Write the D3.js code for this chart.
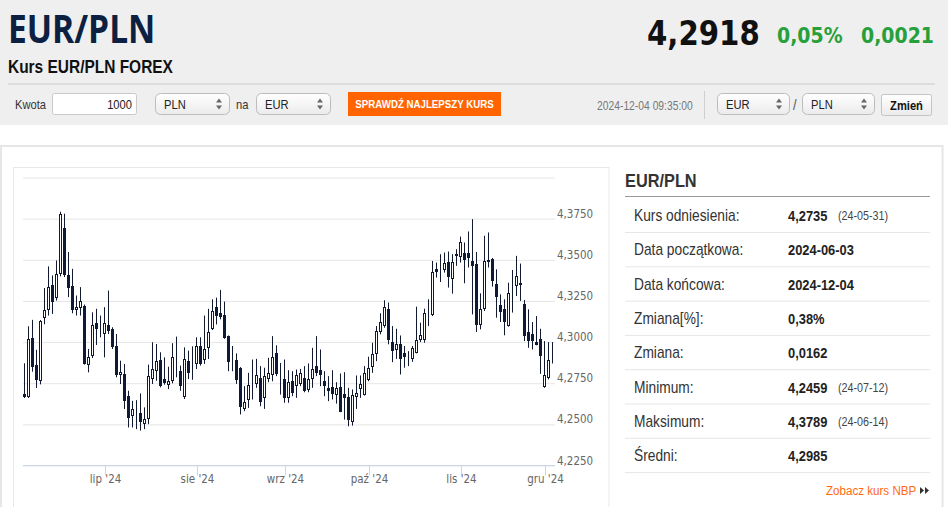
<!DOCTYPE html>
<html>
<head>
<meta charset="utf-8">
<script src="https://cdn.jsdelivr.net/npm/d3@7"></script>
<style>
  html, body { margin: 0; padding: 0; background: #fff; }
  svg { display: block; font-family: "Liberation Sans", Arial, sans-serif; }
</style>
</head>
<body>
<svg width="948" height="507"></svg>
<script>
// EUR/PLN daily candles, 2024-06-03 .. 2024-12-04 (weekdays only)
const firstDay = new Date(2024, 5, 3)
const lastDay = new Date(2024, 11, 4)

const open = [
  // cze
  4.2681, 4.2665, 4.3022, 4.2860, 4.2758, 4.3138, 4.3193, 4.3341, 4.3264, 4.3412,
  4.3690, 4.3406, 4.3337, 4.3193, 4.3209, 4.3219, 4.2860, 4.2914, 4.3111, 4.3085,
  // lip
  4.3046, 4.3101, 4.3077, 4.2971, 4.2795, 4.2803, 4.2671, 4.2549, 4.2580, 4.2565,
  4.2499, 4.2529, 4.2772, 4.2823, 4.2890, 4.2772, 4.2732, 4.2758, 4.2815, 4.2819,
  4.2661, 4.2884, 4.2849,
  // sie
  4.2864, 4.2975, 4.2888, 4.2961, 4.3074, 4.3212, 4.3176, 4.3161, 4.3033, 4.2869,
  4.2891, 4.2841, 4.2587, 4.2648, 4.2757, 4.2739, 4.2776, 4.2658, 4.2770, 4.2800,
  4.2932, 4.2818,
  // wrz
  4.2770, 4.2658, 4.2759, 4.2729, 4.2739, 4.2776, 4.2702, 4.2776, 4.2851, 4.2826,
  4.2759, 4.2719, 4.2723, 4.2678, 4.2723, 4.2682, 4.2664, 4.2516, 4.2662, 4.2715,
  4.2678,
  // paz
  4.2770, 4.2841, 4.2922, 4.3058, 4.3094, 4.3200, 4.2997, 4.2946, 4.2983, 4.2928,
  4.2903, 4.2897, 4.2932, 4.3007, 4.3013, 4.3190, 4.3165, 4.3439, 4.3421, 4.3439,
  4.3484, 4.3383, 4.3521,
  // lis
  4.3511, 4.3541, 4.3541, 4.3490, 4.3470, 4.3104, 4.3196, 4.3484, 4.3504, 4.3348,
  4.3220, 4.3196, 4.3094, 4.3308, 4.3338, 4.3358, 4.3230, 4.3058, 4.3048, 4.2997,
  4.3013,
  // gru
  4.2723, 4.2780, 4.2914
]
const high = [
  4.2868, 4.3093, 4.3132, 4.2950, 4.3131, 4.3325, 4.3457, 4.3402, 4.3493, 4.3789,
  4.3777, 4.3544, 4.3442, 4.3280, 4.3331, 4.3225, 4.2955, 4.3178, 4.3199, 4.3158,
  4.3209, 4.3310, 4.3087, 4.3046, 4.2884, 4.2864, 4.2701, 4.2640, 4.2644, 4.2685,
  4.2600, 4.2860, 4.2996, 4.2985, 4.2935, 4.2904, 4.2847, 4.2990, 4.3030, 4.2854,
  4.2965, 4.2945, 4.2971,
  4.3026, 4.3026, 4.3158, 4.3199, 4.3257, 4.3267, 4.3314, 4.3243, 4.3037, 4.2973,
  4.2928, 4.2845, 4.2729, 4.2810, 4.2891, 4.2895, 4.2851, 4.2841, 4.2901, 4.3033,
  4.2977, 4.2870,
  4.2891, 4.2826, 4.2820, 4.2830, 4.2834, 4.2851, 4.2867, 4.2962, 4.3033, 4.2952,
  4.2820, 4.2790, 4.2826, 4.2753, 4.2806, 4.2814, 4.2719, 4.2709, 4.2794, 4.2794,
  4.2851,
  4.2908, 4.2993, 4.3094, 4.3172, 4.3251, 4.3237, 4.3094, 4.3078, 4.3037, 4.2973,
  4.2942, 4.2973, 4.3212, 4.3115, 4.3200, 4.3257, 4.3490, 4.3480, 4.3531, 4.3541,
  4.3547, 4.3531, 4.3561,
  4.3638, 4.3602, 4.3669, 4.3744, 4.3545, 4.3293, 4.3643, 4.3663, 4.3508, 4.3439,
  4.3287, 4.3257, 4.3358, 4.3435, 4.3521, 4.3474, 4.3253, 4.3196, 4.3119, 4.3155,
  4.3078,
  4.3003, 4.2997, 4.2997
]
const low = [
  4.2657, 4.2657, 4.2817, 4.2718, 4.2740, 4.3105, 4.3158, 4.3168, 4.3249, 4.3396,
  4.3392, 4.3270, 4.3172, 4.3158, 4.3158, 4.2860, 4.2813, 4.2900, 4.2979, 4.3026,
  4.2904, 4.3046, 4.2955, 4.2783, 4.2742, 4.2590, 4.2478, 4.2478, 4.2468, 4.2459,
  4.2468, 4.2498, 4.2742, 4.2762, 4.2722, 4.2738, 4.2711, 4.2746, 4.2783, 4.2701,
  4.2651, 4.2772, 4.2768,
  4.2833, 4.2854, 4.2864, 4.2894, 4.3070, 4.3104, 4.3135, 4.3017, 4.2820, 4.2820,
  4.2743, 4.2557, 4.2577, 4.2597, 4.2648, 4.2719, 4.2607, 4.2591, 4.2753, 4.2759,
  4.2790, 4.2678,
  4.2628, 4.2628, 4.2668, 4.2658, 4.2729, 4.2692, 4.2692, 4.2719, 4.2790, 4.2729,
  4.2668, 4.2638, 4.2648, 4.2623, 4.2571, 4.2526, 4.2485, 4.2489, 4.2591, 4.2658,
  4.2672,
  4.2759, 4.2810, 4.2881, 4.3044, 4.3084, 4.2983, 4.2875, 4.2895, 4.2800, 4.2841,
  4.2851, 4.2877, 4.2928, 4.2997, 4.2993, 4.3094, 4.3155, 4.3389, 4.3362, 4.3419,
  4.3328, 4.3291, 4.3460,
  4.3480, 4.3354, 4.3450, 4.3165, 4.3058, 4.3074, 4.3186, 4.3450, 4.3334, 4.3145,
  4.3119, 4.3038, 4.3090, 4.3176, 4.3277, 4.3247, 4.3003, 4.2962, 4.2952, 4.2977,
  4.2804,
  4.2719, 4.2770, 4.2867
]
const close = [
  4.2665, 4.3016, 4.2843, 4.2766, 4.3124, 4.3189, 4.3331, 4.3239, 4.3412, 4.3777,
  4.3406, 4.3325, 4.3189, 4.3209, 4.3249, 4.2864, 4.2908, 4.3103, 4.3077, 4.3093,
  4.3111, 4.3067, 4.2965, 4.2793, 4.2813, 4.2640, 4.2539, 4.2590, 4.2576, 4.2508,
  4.2529, 4.2793, 4.2833, 4.2884, 4.2732, 4.2746, 4.2758, 4.2904, 4.2821, 4.2726,
  4.2894, 4.2813, 4.2851,
  4.2971, 4.2868, 4.2955, 4.3057, 4.3186, 4.3159, 4.3151, 4.3023, 4.2875, 4.2865,
  4.2770, 4.2607, 4.2632, 4.2739, 4.2761, 4.2794, 4.2628, 4.2790, 4.2806, 4.2908,
  4.2806, 4.2820,
  4.2652, 4.2755, 4.2688, 4.2796, 4.2806, 4.2698, 4.2770, 4.2834, 4.2806, 4.2796,
  4.2729, 4.2698, 4.2678, 4.2719, 4.2573, 4.2658, 4.2522, 4.2678, 4.2688, 4.2743,
  4.2810,
  4.2841, 4.2922, 4.3064, 4.3119, 4.3212, 4.3013, 4.2942, 4.2983, 4.2891, 4.2901,
  4.2907, 4.2962, 4.3009, 4.3037, 4.3176, 4.3192, 4.3425, 4.3419, 4.3423, 4.3480,
  4.3395, 4.3484, 4.3531,
  4.3602, 4.3500, 4.3511, 4.3460, 4.3098, 4.3200, 4.3490, 4.3494, 4.3373, 4.3267,
  4.3176, 4.3119, 4.3293, 4.3312, 4.3399, 4.3348, 4.3037, 4.3003, 4.3003, 4.2979,
  4.2912,
  4.2796, 4.2891, 4.2918
]

const yTicks = [4.225, 4.25, 4.275, 4.3, 4.325, 4.35, 4.375, 4.4]
const monthLabels = ["lip '24", "sie '24", "wrz '24", "paź '24", "lis '24", "gru '24"]

const statLabels = ['Kurs odniesienia:', 'Data początkowa:', 'Data końcowa:', 'Zmiana[%]:',
  'Zmiana:', 'Minimum:', 'Maksimum:', 'Średni:']
const statValues = ['4,2735', '2024-06-03', '2024-12-04', '0,38%', '0,0162', '4,2459', '4,3789', '4,2985']
const statDates = ['(24-05-31)', '', '', '', '', '(24-07-12)', '(24-06-14)', '']

const quote = { rate: '4,2918', pct: '0,05%', diff: '0,0021', time: '2024-12-04 09:35:00' }

// ---------------------------------------------------------------
const svg = d3.select('svg')
const S = 0.86   // glyphs in the reference are a bit narrow

const txt = (g, x, y, s) => g.append('text')
  .attr('transform', `translate(${x},${y}) scale(${S},1)`)
  .text(s)

const defs = svg.append('defs')
const grad = defs.append('linearGradient').attr('id', 'sel').attr('x1', 0).attr('x2', 0).attr('y1', 0).attr('y2', 1)
grad.append('stop').attr('offset', 0).attr('stop-color', '#ffffff')
grad.append('stop').attr('offset', 1).attr('stop-color', '#ebebeb')

// header band
const head = svg.append('g')
head.append('rect').attr('width', 948).attr('height', 125).attr('fill', '#efefef')

txt(head, 8, 43, 'EUR/PLN')
  .style('font-family', '"Open Sans", sans-serif').style('font-weight', 700)
  .style('font-size', '39px').attr('fill', '#0c2142')
txt(head, 8, 73, 'Kurs EUR/PLN FOREX')
  .style('font-weight', 'bold').style('font-size', '18px').attr('fill', '#111')

txt(head, 647, 45, quote.rate)
  .style('font-family', '"DejaVu Sans", sans-serif').style('font-weight', 'bold')
  .style('font-size', '34px').attr('fill', '#111')
txt(head, 777, 43, quote.pct)
  .style('font-family', '"DejaVu Sans", sans-serif').style('font-weight', 'bold')
  .style('font-size', '22px').attr('fill', '#27a03c')
txt(head, 861, 43, quote.diff)
  .style('font-family', '"DejaVu Sans", sans-serif').style('font-weight', 'bold')
  .style('font-size', '22px').attr('fill', '#27a03c')

head.append('line').attr('x1', 8).attr('x2', 935).attr('y1', 84).attr('y2', 84)
  .attr('stroke', '#dcdcdc').attr('stroke-width', 2)

// form row
const form = head.append('g').style('font-size', '13px').attr('fill', '#333')
txt(form, 15, 109, 'Kwota')
form.append('rect').attr('x', 52.5).attr('y', 93.5).attr('width', 84).attr('height', 21).attr('rx', 2)
  .attr('fill', '#fff').attr('stroke', '#c9c9c9')
txt(form, 132, 109, '1000').attr('text-anchor', 'end').attr('fill', '#222')

const select = (x, w, s) => {
  form.append('rect').attr('x', x + 0.5).attr('y', 93.5).attr('width', w).attr('height', 21).attr('rx', 5)
    .attr('fill', 'url(#sel)').attr('stroke', '#bcbcbc')
  txt(form, x + 9, 108.5, s).attr('fill', '#222')
  const ax = x + w - 10
  form.append('path').attr('d', `M${ax - 3},102.5L${ax},98.5L${ax + 3},102.5Z M${ax - 3},105.5L${ax},109.5L${ax + 3},105.5Z`)
    .attr('fill', '#666')
}
select(155, 74, 'PLN')
txt(form, 236, 109, 'na')
select(256, 74, 'EUR')

form.append('rect').attr('x', 348).attr('y', 92).attr('width', 153).attr('height', 24).attr('fill', '#ff6400')
txt(form, 424.5, 108, 'SPRAWDŹ NAJLEPSZY KURS').attr('text-anchor', 'middle')
  .style('font-size', '11.3px').style('font-weight', 'bold').attr('fill', '#fff')

txt(form, 597, 110, quote.time).style('font-size', '12px').attr('fill', '#777')
form.append('line').attr('x1', 704.5).attr('x2', 704.5).attr('y1', 91).attr('y2', 119).attr('stroke', '#cfcfcf')
select(717, 72, 'EUR')
txt(form, 793, 110, '/').style('font-size', '15px').attr('fill', '#555')
select(802, 72, 'PLN')
form.append('rect').attr('x', 881.5).attr('y', 94.5).attr('width', 50).attr('height', 21).attr('rx', 2)
  .attr('fill', 'url(#sel)').attr('stroke', '#c4c4c4')
txt(form, 906.5, 109.5, 'Zmień').attr('text-anchor', 'middle').style('font-weight', 'bold').attr('fill', '#111')

// content panel
svg.append('rect').attr('x', 1).attr('y', 146).attr('width', 941.5).attr('height', 400)
  .attr('fill', '#fff').attr('stroke', '#e6e6e6').attr('stroke-width', 2)
svg.append('rect').attr('x', 13.5).attr('y', 167.5).attr('width', 595.5).attr('height', 400)
  .attr('fill', '#fff').attr('stroke', '#e8e8e8')

// ---------------------------------------------------------------
// candlestick chart
const days = d3.timeDay.range(firstDay, d3.timeDay.offset(lastDay, 1)).filter(d => d.getDay() % 6 !== 0)
const candles = days.map((d, i) => ({ date: d, o: open[i], h: high[i], l: low[i], c: close[i] }))

const x = d3.scalePoint().domain(days).range([25, 553])
const y = d3.scaleLinear().domain([4.225, 4.4]).range([465, 177])
const plotLeft = 23, plotRight = 555

const chart = svg.append('g')
const fmt = v => d3.format('.4f')(v).replace('.', ',')

const yAxis = chart.append('g')
  .call(d3.axisRight(y).tickValues(yTicks).tickSize(plotRight - plotLeft).tickFormat(fmt))
  .attr('transform', `translate(${plotLeft},0)`)
yAxis.select('.domain').remove()
yAxis.selectAll('.tick line').attr('stroke', '#e6e6e6').attr('transform', 'translate(0,0.5)')
yAxis.selectAll('.tick text')
  .attr('x', 0).attr('dy', 0)
  .attr('transform', `translate(${plotRight - plotLeft + 2},-1) scale(${S},1)`)
  .style('font-family', '"DejaVu Sans", sans-serif').style('font-size', '12px').attr('fill', '#666')
yAxis.selectAll('.tick').filter(d => d === 4.4).select('text').remove()

const monthStarts = days.filter((d, i) => i > 0 && d.getMonth() !== days[i - 1].getMonth())
const xAxis = chart.append('g').attr('transform', 'translate(0,465.5)')
  .call(d3.axisBottom(x).tickValues(monthStarts).tickSize(10).tickPadding(0)
    .tickFormat((d, i) => monthLabels[i]))
xAxis.select('.domain').attr('d', `M${plotLeft},0H${plotRight}`).attr('stroke', '#ccd6eb')
xAxis.selectAll('.tick line').attr('stroke', '#ccd6eb')
xAxis.selectAll('.tick text')
  .attr('y', 0).attr('dy', 0)
  .attr('transform', `translate(0,17.5) scale(${S},1)`)
  .style('font-family', '"DejaVu Sans", sans-serif').style('font-size', '12px').attr('fill', '#666')

const ink = '#121a30'
const g = chart.append('g').selectAll('g').data(candles).join('g')
g.append('line')
  .attr('x1', d => x(d.date) - 0.5).attr('x2', d => x(d.date) - 0.5)
  .attr('y1', d => y(d.h)).attr('y2', d => y(d.l))
  .attr('stroke', ink)
g.append('rect')
  .attr('x', d => x(d.date) - 1.5)
  .attr('width', 2)
  .attr('y', d => Math.round(y(Math.max(d.o, d.c))) + 0.5)
  .attr('height', d => Math.max(0, Math.round(Math.abs(y(d.o) - y(d.c))) - 1))
  .attr('fill', d => d.c >= d.o ? '#fff' : '#0e1a36')
  .attr('stroke', ink)

// ---------------------------------------------------------------
// stats table on the right
const side = svg.append('g').attr('fill', '#333')
txt(side, 625, 187, 'EUR/PLN').style('font-weight', 'bold').style('font-size', '19px')
side.append('line').attr('x1', 625).attr('x2', 930).attr('y1', 196.5).attr('y2', 196.5).attr('stroke', '#999')

const rowH = 34.3
const rows = side.selectAll('g.row').data(statLabels).join('g').attr('class', 'row')
  .attr('transform', (d, i) => `translate(0,${221 + i * rowH})`)
rows.each(function (d, i) {
  const r = d3.select(this)
  txt(r, 634, 0, d).style('font-size', '16px').attr('fill', '#333')
  txt(r, 788, 0, statValues[i]).style('font-size', '15px').style('font-weight', 'bold').attr('fill', '#222')
  if (statDates[i]) txt(r, 838, -1, statDates[i]).style('font-size', '12.5px').attr('fill', '#444')
  r.append('line').attr('x1', 625).attr('x2', 930).attr('y1', 11.5).attr('y2', 11.5).attr('stroke', '#e6e6e6')
})

txt(side, 826, 495, 'Zobacz kurs NBP').style('font-size', '13.5px').attr('fill', '#ff6a10')
side.append('path').attr('d', 'M920,487L924,490.5L920,494Z M925,487L929,490.5L925,494Z').attr('fill', '#333')
</script>
</body>
</html>
